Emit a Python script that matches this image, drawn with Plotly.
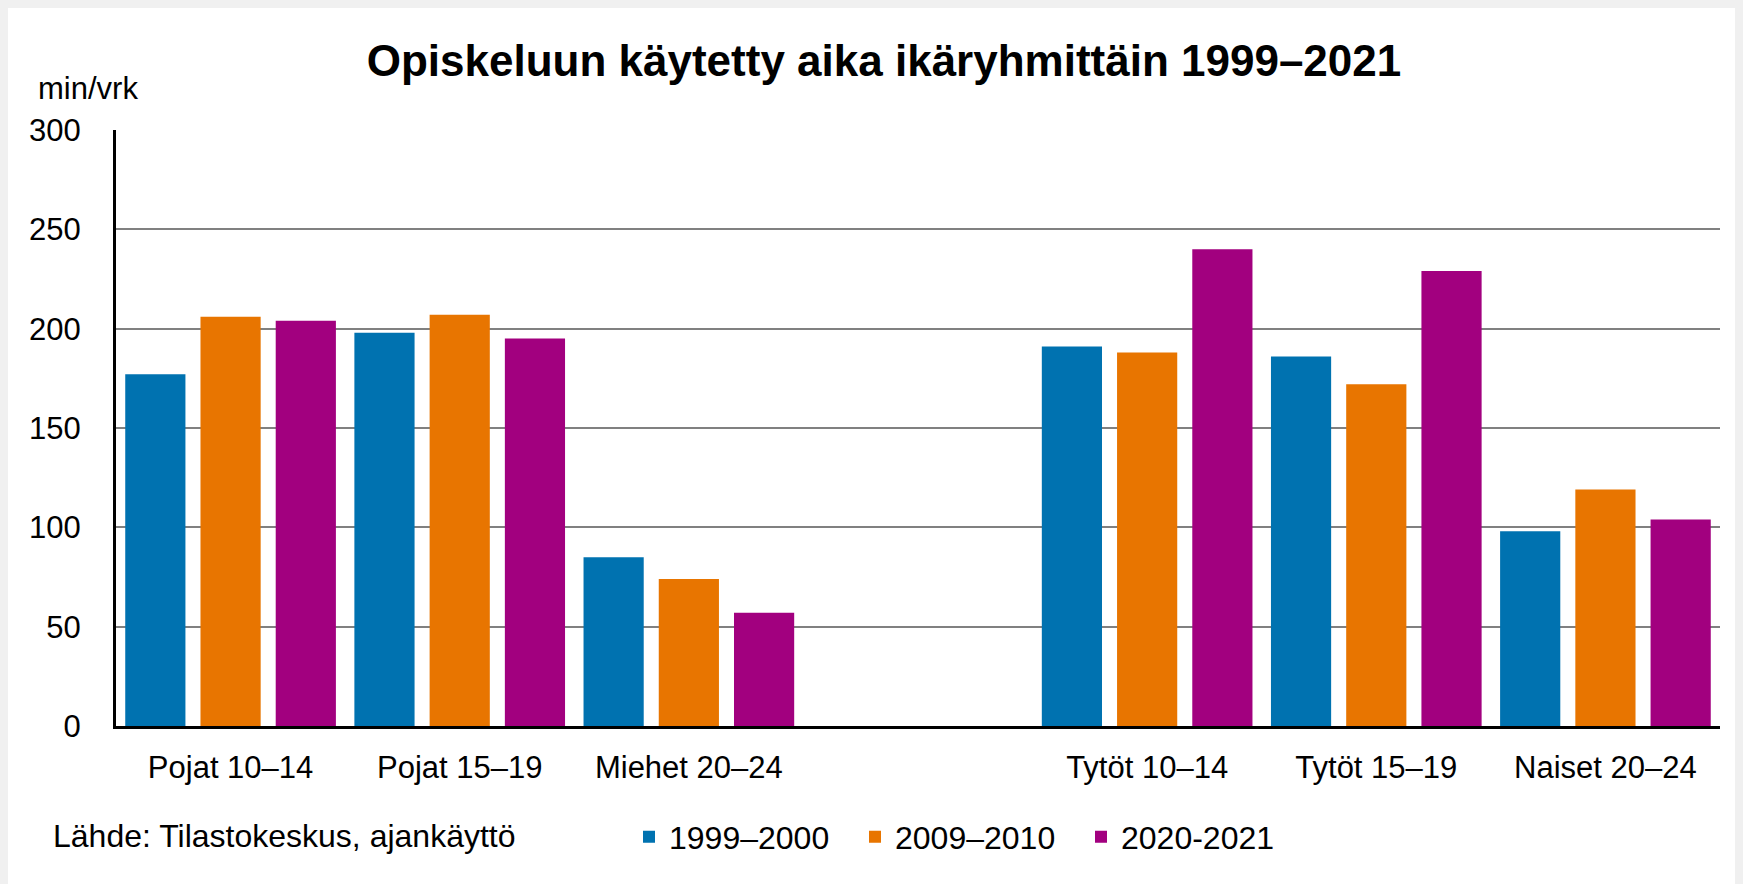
import plotly.graph_objects as go

# ---- data ----
categories = ["Pojat 10–14", "Pojat 15–19", "Miehet 20–24", " ",
              "Tytöt 10–14", "Tytöt 15–19", "Naiset 20–24"]
series_names = ["1999–2000", "2009–2010", "2020-2021"]
v_1999_2000 = [177, 198, 85, None, 191, 186, 98]
v_2009_2010 = [206, 207, 74, None, 188, 172, 119]
v_2020_2021 = [204, 195, 57, None, 240, 229, 104]
y_ticks = [0, 50, 100, 150, 200, 250, 300]

colors = ["#0072b0", "#e87500", "#a2007f"]
FONT = "Liberation Sans, Arial, sans-serif"

# page body has an 8px margin; figure fills the rest of the 1743x884 window
OFF = 8
W, H = 1743 - OFF, 884 - OFF
ML, MR, MT, MB = 116 - OFF, 23, 130 - OFF, 157.5
PW = W - ML - MR
PH = H - MT - MB


def px_x(sx):
    """screen x -> paper fraction"""
    return (sx - OFF - ML) / PW


def px_y(sy):
    """screen y -> paper fraction"""
    return (H - MB - (sy - OFF)) / PH


fig = go.Figure()
for name, vals, col in zip(series_names, [v_1999_2000, v_2009_2010, v_2020_2021], colors):
    fig.add_trace(go.Bar(x=categories, y=vals, name=name,
                         marker=dict(color=col, line=dict(width=0))))

fig.update_layout(
    width=W, height=H,
    margin=dict(l=ML, r=MR, t=MT, b=MB, autoexpand=False),
    paper_bgcolor="white",
    plot_bgcolor="white",
    barmode="group",
    bargap=0.015,
    bargroupgap=0.2,
    font=dict(family=FONT, size=31, color="black"),
    title=dict(text="<b>Opiskeluun käytetty aika ikäryhmittäin 1999–2021</b>",
               x=(884 - OFF) / W, xref="container", xanchor="center",
               y=1 - (61 - OFF) / H, yref="container", yanchor="middle",
               font=dict(size=44, family=FONT, color="black")),
    xaxis=dict(type="category", categoryorder="array", categoryarray=categories,
               range=[-0.5, 6.5], showgrid=False, showline=True, linecolor="black",
               linewidth=3, ticks="", tickfont=dict(size=31), ticklabelstandoff=12,
               fixedrange=True),
    yaxis=dict(range=[0, 300], tickvals=y_ticks, showgrid=True, gridcolor="#808080",
               gridwidth=1.6, zeroline=False, showline=True, linecolor="black",
               linewidth=3, ticks="", tickfont=dict(size=31), ticklabelstandoff=26,
               fixedrange=True),
    legend=dict(orientation="h", xref="container", yref="container",
                x=(629 - OFF) / W, xanchor="left", y=1 - (837 - OFF) / H, yanchor="middle",
                font=dict(size=32), bgcolor="rgba(0,0,0,0)",
                entrywidth=181, entrywidthmode="pixels", traceorder="normal",
                itemclick=False, itemdoubleclick=False),
    annotations=[
        dict(text="min/vrk", xref="paper", yref="paper", x=px_x(36), y=px_y(88),
             xanchor="left", yanchor="middle", showarrow=False, font=dict(size=31)),
        dict(text="Lähde: Tilastokeskus, ajankäyttö", xref="paper", yref="paper",
             x=px_x(51), y=px_y(837), xanchor="left", yanchor="middle",
             showarrow=False, font=dict(size=32)),
    ],
)

fig.write_html(
    "out.html",
    post_script="document.body.style.background='#f0f0f0';"
                "document.body.style.overflow='hidden';",
)
